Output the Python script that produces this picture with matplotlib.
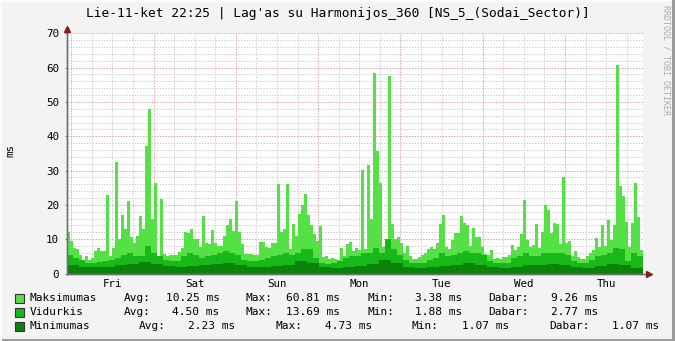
import matplotlib
matplotlib.use("Agg")
import matplotlib.pyplot as plt
import numpy as np
from matplotlib.patches import Rectangle

title = "Lie-11-ket 22:25 | Lag'as su Harmonijos_360 [NS_5_(Sodai_Sector)]"
days = ["Fri", "Sat", "Sun", "Mon", "Tue", "Wed", "Thu"]

# hours relative to Friday 00:00, graph covers one week
t_start = -1.25
t_span = 168.0

# Maksimumas, ~52 min steps
max_ms = [12, 9.5, 7.5, 7, 5.5, 3.5, 5, 3.8, 4.5, 6.5,
          7.5, 6.5, 6.5, 23, 5, 7.5, 32.5, 10, 17, 13,
          21, 10.5, 9, 11, 16.8, 13, 37.3, 48, 16, 26.4,
          5, 21.8,
          5.8, 5.2, 5.3, 5.5, 5.5, 6.2, 7.5, 12,
          11.8, 13, 10, 10, 7.8, 16.8, 9, 8.5, 12.7, 9,
          8, 8, 11, 14, 15.8, 12.5, 21, 12, 8.5, 5.7,
          5.7, 5.6, 5.5, 5.5, 9.3,
          9.3, 7.8, 7.5, 9, 8.8,
          26, 12, 13, 26, 7, 14.5, 11, 17.4, 20, 23.2,
          17, 14, 11.5, 9.5, 13.7, 4.9, 5, 4.2, 4.6, 4.2,
          4, 7.4, 5, 8.6, 9.3, 6.7, 7.4,
          6.9, 30.3, 7,
          31.7, 15.8, 58.5, 35.6, 26.4, 7.6, 9.3, 57.7, 14.5, 10,
          10.5, 9, 5.9, 8, 5.2, 4.2, 4.1, 4.9, 5.4, 5.9,
          7, 7.8, 7.2, 8.8, 14.5, 17, 7.8, 7, 9.8, 11.9,
          11.9, 16.8, 14.7, 14.2, 8, 13.4, 10.5, 10.5, 7.8, 5.7,
          5.4, 6.9, 4.2, 4.5, 4.1, 4.9, 4.7, 5.5, 8.3, 6.9,
          7.8, 11.5, 21.3, 9.8, 7.6, 8.3, 14.5, 7.5, 12, 20,
          18.6, 11.7, 14.7,
          14.5, 8.5, 28, 9, 9.6, 5, 6.5,
          4.9, 4.2, 4.2, 5.2, 6, 6.9, 10.3, 7.8, 14.2, 8,
          15.6, 9.8, 14.2, 60.8, 25.6, 22.7, 14.9, 7.8, 14.7, 26.4,
          16.6, 6.9]

# Vidurkis
avg_ms = [5.4, 4.5, 4, 3.2, 3, 3.3, 3.5, 3.8, 4.5, 5.5, 6, 5, 5, 8, 6, 5,
          4, 3.5, 3.5, 5, 6, 5.5, 4.5, 5, 5.5, 6, 6.5, 6, 5.5, 4, 3.5, 3.5,
          4, 4.5, 5, 5.5, 6, 5.5, 6, 7, 7, 4.5, 3, 2.8, 3, 3.5, 4.5, 5,
          5, 6, 6, 7.5, 6, 10, 7, 5.5, 4, 3, 3, 3.2, 4, 4.5, 6, 5, 5.5,
          6, 6.5, 6, 6, 5.5, 3.5, 3, 3, 3, 4.5, 5, 6, 5, 5, 6, 6,
          6, 6, 5.5, 3.5, 3, 3.2, 4, 5, 5.5, 6, 7.5, 7, 3.5, 6, 5]

# Minimumas
min_ms = [2.5, 2, 1.8, 2, 2.5, 2.8, 3.3, 2.8, 2.2, 2,
          2.3, 2.5, 2.8, 3, 2.5, 2, 2, 2.3, 2.5, 3.5,
          3, 1.8, 1.7, 2, 2.2, 2.8, 4, 3, 2, 1.6,
          1.8, 2.3, 2.5, 3, 2.6, 1.8, 1.5, 2, 2.5, 2.5,
          2.8, 2.5, 1.8, 1.6, 2.2, 2.8, 2.4, 1.5]

legend_rows = [
    ("Maksimumas", "#55E046", [("Avg:", 124), ("10.25 ms", 165.5), ("Max:", 245.5), ("60.81 ms", 286.5),
                               ("Min:", 367.5), ("3.38 ms", 415), ("Dabar:", 488.5), ("9.26 ms", 551)]),
    ("Vidurkis", "#18B818", [("Avg:", 124), ("4.50 ms", 172.3), ("Max:", 245.5), ("13.69 ms", 286.5),
                             ("Min:", 367.5), ("1.88 ms", 415), ("Dabar:", 488.5), ("2.77 ms", 551)]),
    ("Minimumas", "#0B820B", [("Avg:", 139), ("2.23 ms", 187.5), ("Max:", 276), ("4.73 ms", 325),
                              ("Min:", 412), ("1.07 ms", 461.5), ("Dabar:", 549.5), ("1.07 ms", 612)]),
]

W, H = 675, 341
mono = "DejaVu Sans Mono"

fig = plt.figure(figsize=(W / 100, H / 100), dpi=100, facecolor="#F3F3F3")
ax = fig.add_axes([67 / W, (H - 273.5) / H, 576 / W, 240.2 / H])
ax.set_facecolor("white")

for vals, col in [(max_ms, "#55E046"), (avg_ms, "#18B818"), (min_ms, "#0B820B")]:
    edges = np.linspace(t_start, t_start + t_span, len(vals) + 1)
    ax.stairs(vals, edges, fill=True, color=col, lw=0, zorder=2)

ax.set_xlim(t_start, t_start + t_span)
ax.set_ylim(0, 70)

# grid: gray every 6 h / 2 ms, red every day / 10 ms
dots = (0, (1.4, 1.4))
midnights = np.arange(0, 167, 24)
six_h = [h for h in np.arange(0, 167, 6) if h % 24 != 0]
for h in six_h:
    ax.axvline(h, color="#CFCFCF", lw=0.72, ls=dots, zorder=1)
for h in midnights:
    ax.axvline(h, color="#E4A3A3", lw=0.72, ls=dots, zorder=1)
for v in np.arange(2, 71, 2):
    c = "#E4A3A3" if v % 10 == 0 else "#CFCFCF"
    ax.axhline(v, color=c, lw=0.72, ls=dots, zorder=1)

ax.set_yticks(np.arange(0, 71, 10))
ax.set_yticklabels([str(v) for v in range(0, 71, 10)], family=mono, fontsize=7.8)
ax.set_xticks(midnights + 12)
ax.set_xticklabels(days, family=mono, fontsize=7.8)
ax.tick_params(axis="x", length=0, pad=4)
ax.tick_params(axis="y", length=1.5, pad=4.2, color="#888888")

for s in ["top", "right"]:
    ax.spines[s].set_visible(False)
for s in ["left", "bottom"]:
    ax.spines[s].set_color("#707070")
    ax.spines[s].set_linewidth(1)
    ax.spines[s].set_zorder(4)

# axis arrows
ax.plot([0, 0], [0, 1.02], color="#707070", lw=1, transform=ax.transAxes, clip_on=False, zorder=4)
ax.plot([0, 1.01], [0, 0], color="#707070", lw=1, transform=ax.transAxes, clip_on=False, zorder=4)
ax.plot(0, 1.019, marker="^", color="#8B1A1A", ms=4.5, transform=ax.transAxes, clip_on=False, zorder=5)
ax.plot(1.0104, 0, marker=">", color="#8B1A1A", ms=4.5, transform=ax.transAxes, clip_on=False, zorder=5)

fig.text(0.5, (H - 13) / H, title, ha="center", va="center", family=mono, fontsize=9.3, color="#000000")
fig.text(10 / W, (H - 150) / H, "ms", ha="center", va="center", rotation=90, family=mono, fontsize=7.8)
fig.text(666 / W, (H - 60) / H, "RRDTOOL / TOBI OETIKER", ha="center", va="center", rotation=-90,
         family=mono, fontsize=6, color="#ABABAB")

# legend
for k, (name, col, parts) in enumerate(legend_rows):
    y = (H - (298 + 14 * k)) / H
    fig.patches.append(Rectangle((15 / W, y - 4.5 / H), 9 / W, 9 / H, transform=fig.transFigure,
                                 facecolor=col, edgecolor="#333333", lw=0.8))
    fig.text(30 / W, y, name, ha="left", va="center", family=mono, fontsize=8)
    for txt, x in parts:
        fig.text(x / W, y, txt, ha="left", va="center", family=mono, fontsize=8)

# canvas shading frame
fig.patches.append(Rectangle((672 / W, 0), 3 / W, 1, transform=fig.transFigure, color="#9C9C9C", lw=0))
fig.patches.append(Rectangle((0, 0), 1, 2 / H, transform=fig.transFigure, color="#9C9C9C", lw=0))
fig.patches.append(Rectangle((0, 0), 2 / W, 1, transform=fig.transFigure, color="#FCFCFC", lw=0))
fig.patches.append(Rectangle((0, 1 - 2 / H), 672 / W, 2 / H, transform=fig.transFigure, color="#FCFCFC", lw=0))

fig.savefig("out.png", dpi=100, facecolor=fig.get_facecolor())
